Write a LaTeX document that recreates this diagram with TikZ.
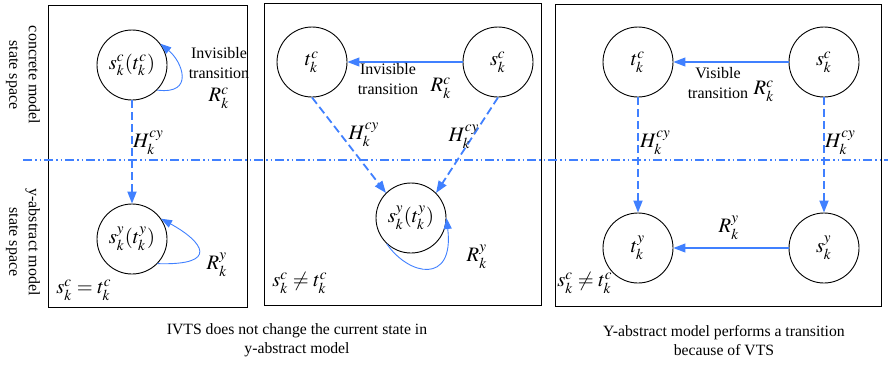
\documentclass[tikz,border=0pt]{standalone}
\usepackage{mathptmx}
\usepackage{graphicx}
\usepackage{fontspec}
\setmainfont{Liberation Serif}
\usetikzlibrary{arrows.meta}
\newcommand\mth[1]{{\fontsize{10}{12}\selectfont\scalebox{2.05}{$#1$}}}
\definecolor{cblue}{RGB}{64,128,255}
\begin{document}
\begin{tikzpicture}[x=1pt,y=-1pt,
  every node/.style={font=\fontsize{16}{19.5}\selectfont},
  state/.style={circle,draw,line width=0.9pt,minimum size=70pt,inner sep=0pt},
  box/.style={draw,line width=1pt},
  harrow/.style={cblue,line width=1.8pt,dash pattern=on 8pt off 4pt,-{Triangle[length=12pt,width=9pt]}},
  rarrow/.style={cblue,line width=1.1pt,-{Triangle[length=12pt,width=9pt]}},
  looparrow/.style={cblue,line width=0.9pt,-{Triangle[length=11pt,width=8pt]}},
  sepline/.style={cblue,line width=1.8pt,dash pattern=on 9pt off 3pt on 1.5pt off 3pt on 1.5pt off 3pt},
  lbl/.style={inner sep=0pt},
  captext/.style={align=center,font=\fontsize{15.7}{19}\selectfont}]
\useasboundingbox (0,0) rectangle (888,365);

% boxes
\draw[box] (48,5) rectangle (247,307);
\draw[box] (264,3) rectangle (541,305);
\draw[box] (555,4) rectangle (881,306);

% separator
\coordinate (sepL) at (23,160);
\coordinate (sepR) at (888,160);
\draw[sepline] (sepL) -- (sepR);

% side labels
\node[rotate=-90,align=center,lbl] (side1) at (23,75) {concrete model\\state space};
\node[rotate=-90,align=center,lbl] (side2) at (23,242) {y-abstract model\\state space};

% ---------- box 1
\node[state] (A1) at (132,65) {\mth{s_k^c(t_k^c)}};
\node[state] (B1) at (132,239) {\mth{s_k^y(t_k^y)}};
\draw[harrow] (A1.south) -- (B1.north);
\node[lbl,anchor=west] (H1) at (133,143) {\mth{H_k^{cy}}};
\draw[looparrow] (A1.-45) .. controls +(38,5) and +(22,18) .. (A1.37);
\node[lbl,align=center] (T1) at (219,63) {Invisible\\transition};
\node[lbl] (R1) at (219,98) {\mth{R_k^c}};
\draw[looparrow] (B1.-44) .. controls +(63,2) and +(42,23) .. (B1.35);
\node[lbl] (R1y) at (217,265) {\mth{R_k^y}};
\node[lbl] (E1) at (84,290) {\mth{s_k^c=t_k^c}};

% ---------- box 2
\node[state] (tc2) at (312,62) {\mth{t_k^c}};
\node[state] (sc2) at (498,62) {\mth{s_k^c}};
\node[state] (y2) at (411,218) {\mth{s_k^y(t_k^y)}};
\draw[rarrow] (sc2.west) -- (tc2.east);
\node[lbl,align=center] (T2) at (388,79) {Invisible\\transition};
\node[lbl] (R2) at (441,88) {\mth{R_k^c}};
\draw[harrow] (tc2.south) -- (y2.135);
\draw[harrow] (sc2.south) -- (y2.45);
\node[lbl] (H2a) at (364,135) {\mth{H_k^{cy}}};
\node[lbl] (H2b) at (464,137) {\mth{H_k^{cy}}};
\draw[looparrow] (y2.-133) .. controls +(22,32) and +(8,67) .. (y2.0);
\node[lbl] (R2y) at (477,257) {\mth{R_k^y}};
\node[lbl] (E2) at (300,283) {\mth{s_k^c\neq t_k^c}};

% ---------- box 3
\node[state] (tc3) at (638,62) {\mth{t_k^c}};
\node[state] (sc3) at (824,62) {\mth{s_k^c}};
\node[state] (ty3) at (638,248) {\mth{t_k^y}};
\node[state] (sy3) at (824,248) {\mth{s_k^y}};
\draw[rarrow] (sc3.west) -- (tc3.east);
\node[lbl,align=center] (T3) at (718,83) {Visible\\transition};
\node[lbl] (R3) at (764,91) {\mth{R_k^c}};
\draw[harrow] (tc3.south) -- (ty3.north);
\draw[harrow] (sc3.south) -- (sy3.north);
\node[lbl,anchor=west] (H3a) at (640,143) {\mth{H_k^{cy}}};
\node[lbl,anchor=west] (H3b) at (825,143) {\mth{H_k^{cy}}};
\draw[rarrow] (sy3.west) -- (ty3.east);
\node[lbl] (R3y) at (729,228) {\mth{R_k^y}};
\node[lbl] (E3) at (585,283) {\mth{s_k^c\neq t_k^c}};

% captions
\node[captext] (C1) at (297,340) {IVTS does not change the current state in\\y-abstract model};
\node[captext] (C2) at (724,341) {Y-abstract model performs a transition\\because of VTS};
\end{tikzpicture}
\end{document}
